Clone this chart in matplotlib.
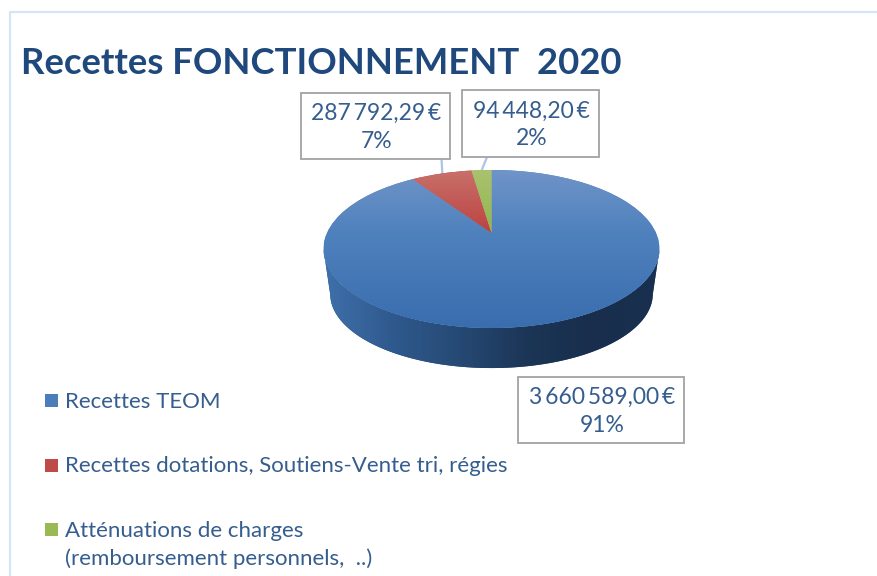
import numpy as np
import matplotlib
matplotlib.use("Agg")
import matplotlib.pyplot as plt
from matplotlib.colors import LinearSegmentedColormap
from matplotlib.patches import Polygon, Rectangle
from matplotlib.path import Path
from matplotlib.transforms import Transform

categories = ["Recettes TEOM",
              "Recettes dotations, Soutiens-Vente tri, régies",
              "Atténuations de charges\n(remboursement personnels,  ..)"]
values = [3660589.00, 287792.29, 94448.20]
percents = [91, 7, 2]
title = "Recettes FONCTIONNEMENT  2020"
top_colors = ["#6f94c8", "#c8706b", "#a9c26f"]
mid_colors = ["#4f81bd", "#bc4240", "#93b54e"]
low_colors = ["#3a6dae", "#a93533", "#86a843"]
legend_colors = ["#4a7ebb", "#be4b48", "#98b954"]

TEXT = "#355d8e"
TITLE = "#1f497d"
plt.rcParams["font.family"] = ["Lato", "DejaVu Sans"]

# pie is tilted, apex sits above the ellipse centre
CX, APEX = 491.5, 233.0
K, A, B = 0.2025, 75.8, 164.5


class Tilt(Transform):
    input_dims = output_dims = 2

    def transform_non_affine(self, xy):
        xy = np.asarray(xy, dtype=float)
        w = 1 + K * xy[:, 1]
        return np.column_stack([CX + B * xy[:, 0] / w, APEX - A * xy[:, 1] / w])

    def transform_path_non_affine(self, path):
        return Path(self.transform_non_affine(path.vertices), path.codes)


def money(v):
    s = f"{v:,.2f}".replace(",", "\u2009").replace(".", ",")
    return s + "\u2009€"


fig = plt.figure(figsize=(8.77, 5.76), dpi=100)
ax = fig.add_axes([0, 0, 1, 1])
tilt = Tilt()

# frame of the slide
ax.plot([9.5, 9.5, 877], [576, 11.5, 11.5], color="#d6e4f6", lw=1.6, zorder=1)

# side of the disc
t = np.linspace(0, 2 * np.pi, 721)
rim = tilt.transform_non_affine(np.column_stack([np.cos(t), np.sin(t)]))
rim = rim[rim[:, 1] >= 249]
rim = rim[np.argsort(rim[:, 0])]
low = np.column_stack([CX + (rim[:, 0] - CX) * 0.96,
                       250 + (rim[:, 1] - 250) * 73 / 78 + 45])
side = Polygon(np.vstack([rim, low[::-1]]), closed=True, fc="#264a75", ec="none", zorder=2)
ax.add_patch(side)
side_cmap = LinearSegmentedColormap.from_list(
    "side", ["#3f70aa", "#2f5a8e", "#264a75", "#1c3657", "#182e4c", "#1a3050"])
im = ax.imshow(np.linspace(0, 1, 256)[None, :], cmap=side_cmap, aspect="auto",
               extent=(324, 659, 370, 240), zorder=3)
im.set_clip_path(side)

# top face
wedges, _ = ax.pie(values, startangle=90, counterclock=False, colors=mid_colors)
for i, w in enumerate(wedges):
    w.set_transform(tilt + ax.transData)
    w.set_zorder(4)
    cmap = LinearSegmentedColormap.from_list(
        f"s{i}", [(0, top_colors[i]), (0.4, mid_colors[i]), (1, low_colors[i])])
    im = ax.imshow(np.linspace(0, 1, 256)[:, None], cmap=cmap, aspect="auto",
                   extent=(324, 659, 328, 170), zorder=5)
    im.set_clip_path(w)

# leader lines
ax.plot([441.5, 442.5], [159, 176], color="#a9c6ea", lw=1.6, zorder=2)
ax.plot([487, 481], [157, 172], color="#a9c6ea", lw=1.6, zorder=2)

# data labels
boxes = [(518, 377, 166, 66), (301, 93, 149, 66), (462, 90, 137, 67)]
for v, p, (x, y, bw, bh) in zip(values, percents, boxes):
    ax.add_patch(Rectangle((x, y), bw, bh, fc="white", ec="#a3a3a3", lw=1.3, zorder=6))
    ax.text(x + bw / 2 + 1, y + bh / 2 + 1.5, f"{money(v)}\n{p}%", ha="center", va="center",
            fontsize=16.5, color=TEXT, linespacing=1.38, zorder=7)

# legend
for c, name, sy, ty in zip(legend_colors, categories, [400, 465, 529], [402, 466, 545]):
    ax.add_patch(Rectangle((45, sy - 6.5), 13, 13, fc=c, ec="none", zorder=6))
    ax.text(65, ty, name, ha="left", va="center", fontsize=16, color=TEXT,
            linespacing=1.42, zorder=7)

ax.text(21, 63.5, title, ha="left", va="center", fontsize=26.3, fontweight="bold", color=TITLE)

ax.set_aspect("auto")
ax.set_xlim(0, 877)
ax.set_ylim(576, 0)
ax.axis("off")
fig.savefig("out.png", dpi=100, facecolor="white")
